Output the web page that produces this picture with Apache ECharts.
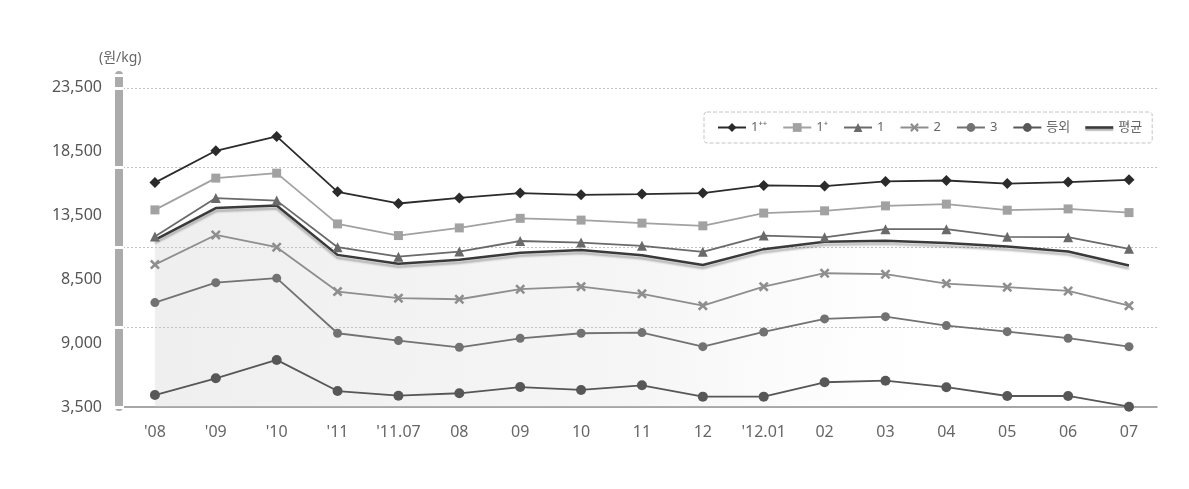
<!DOCTYPE html>
<html><head><meta charset="utf-8">
<script src="https://cdn.jsdelivr.net/npm/echarts@6/dist/echarts.min.js"></script>
<style>html,body{margin:0;padding:0;background:#fff}#c{width:1189px;height:489px}</style>
</head><body><div id="c"></div>
<script>
const categories = ["'08","'09","'10","'11","'11.07","08","09","10","11","12","'12.01","02","03","04","05","06","07"];
const g1pp = [17560,19550,20450,16980,16250,16600,16900,16790,16840,16900,17380,17340,17630,17690,17500,17590,17730];
const g1p  = [15850,17840,18150,14970,14240,14720,15320,15210,15020,14850,15650,15790,16100,16210,15830,15910,15680];
const g1   = [14180,16590,16430,13510,12920,13240,13900,13800,13600,13220,14240,14130,14640,14640,14160,14140,13410];
const g2   = [12420,14280,13510,10730,10320,10250,10880,11040,10590,9850,11040,11880,11820,11230,11010,10770,9850];
const g3   = [10040,11290,11570,8120,7660,7240,7800,8120,8160,7280,8200,9020,9160,8600,8220,7810,7280];
const gOut = [4250,5300,6450,4500,4210,4360,4750,4570,4860,4150,4150,5050,5150,4740,4190,4190,3520];
const avg  = [13970,15960,16120,13030,12470,12720,13160,13340,13010,12400,13390,13850,13910,13780,13550,13240,12360];
const yTickLabels = ['3,500','9,000','8,500','13,500','18,500','23,500'];
const seriesNames = ['1⁺⁺','1⁺','1','2','3','등외','평균'];
const unitLabel = '(원/kg)';

const base = 3500;              // value at the bottom of the plot
const toData = arr => arr.map((v, i) => [i, v - base]);
const FONT = "'Noto Sans', 'Noto Sans CJK KR', sans-serif";
const xSym = 'path://M0,1.8 L1.8,0 L5,3.2 L8.2,0 L10,1.8 L6.8,5 L10,8.2 L8.2,10 L5,6.8 L1.8,10 L0,8.2 L3.2,5 Z';

function lineSeries(name, data, color, symbol, size, width) {
  return {
    name, type: 'line', data: toData(data), symbol, symbolSize: size, z: 3,
    lineStyle: { color, width: width || 1.8 },
    itemStyle: { color, borderWidth: 0 },
    emphasis: { disabled: true }
  };
}

const legendData = seriesNames.map(n => n === '평균'
  ? { name: n, icon: 'path://M0,0 L28,0 L28,2.6 L0,2.6 Z', itemStyle: { color: '#3a3a3a', shadowColor: 'rgba(0,0,0,0.3)', shadowBlur: 1, shadowOffsetY: 2 } }
  : { name: n });

const chart = echarts.init(document.getElementById('c'), null, { renderer: 'canvas' });
const yCommon = { type: 'value', min: 0, max: 20800, position: 'left', offset: 0 };
chart.setOption({
  animation: false,
  backgroundColor: '#ffffff',
  textStyle: { fontFamily: FONT },
  title: {
    text: unitLabel, left: 94, top: 46,
    textStyle: { fontSize: 14, fontWeight: 'normal', color: '#666', fontFamily: FONT }
  },
  legend: {
    data: legendData,
    left: 704, top: 112,
    padding: [9, 10, 9, 13],
    itemWidth: 28, itemHeight: 11, itemGap: 15,
    borderColor: '#c4c4c4', borderWidth: 1, borderType: 'dashed', borderRadius: 3,
    textStyle: { fontSize: 13, color: '#666', fontFamily: FONT },
    selectedMode: false
  },
  grid: { left: 119, right: 32, top: 75, bottom: 82, containLabel: false },
  xAxis: {
    type: 'value', min: -0.59, max: 16.46,
    axisLine: { show: true, onZero: false, lineStyle: { color: '#8a8a8a', width: 1.5 } },
    axisTick: { show: false },
    splitLine: { show: false },
    axisLabel: {
      margin: 17, fontSize: 16, color: '#666', fontFamily: FONT,
      customValues: categories.map((c, i) => i),
      formatter: v => categories[Math.round(v)] !== undefined ? categories[Math.round(v)] : ''
    }
  },
  yAxis: [
    Object.assign({}, yCommon, {
      interval: 4000,
      axisLine: { show: true, onZero: false, lineStyle: { color: '#ababab', width: 8 } },
      axisTick: { show: false },
      splitLine: { show: false },
      axisLabel: {
        margin: 17, fontSize: 16, color: '#555', fontFamily: FONT,
        formatter: v => (v % 4000 === 0 && yTickLabels[v / 4000] !== undefined) ? yTickLabels[v / 4000] : ''
      }
    }),
    Object.assign({}, yCommon, {
      interval: 5000,
      axisLine: { show: false, onZero: false },
      axisLabel: { show: false },
      axisTick: { show: true, inside: false, length: 5, lineStyle: { color: '#ffffff', width: 3 } },
      splitLine: { show: true, showMinLine: false, showMaxLine: false,
        lineStyle: { color: '#c2c2c2', width: 1, type: [2, 2] } }
    }),
    Object.assign({}, yCommon, {
      interval: 5000,
      axisLine: { show: false, onZero: false },
      axisLabel: { show: false },
      axisTick: { show: true, inside: true, length: 5, lineStyle: { color: '#ffffff', width: 3 } },
      splitLine: { show: false }
    })
  ],
  series: [
    {
      name: 'avgArea', type: 'line', data: toData(avg), symbol: 'none', z: 1, silent: true,
      lineStyle: { width: 0, opacity: 0 },
      areaStyle: {
        color: { type: 'linear', x: 0, y: 0, x2: 1, y2: 0.3, colorStops: [
          { offset: 0, color: 'rgba(200,200,200,0.42)' },
          { offset: 0.5, color: 'rgba(210,210,210,0.30)' },
          { offset: 0.8, color: 'rgba(230,230,230,0.0)' },
          { offset: 1, color: 'rgba(255,255,255,0)' }
        ] }
      }
    },
    lineSeries(seriesNames[0], g1pp, '#2b2b2b', 'diamond', 11, 1.8),
    lineSeries(seriesNames[1], g1p, '#a2a2a2', 'rect', 9, 1.8),
    lineSeries(seriesNames[2], g1, '#6a6a6a', 'triangle', 10, 1.8),
    lineSeries(seriesNames[3], g2, '#8e8e8e', xSym, 10, 1.8),
    lineSeries(seriesNames[4], g3, '#727272', 'circle', 9, 1.8),
    lineSeries(seriesNames[5], gOut, '#575757', 'circle', 10, 1.8),
    {
      name: seriesNames[6], type: 'line', data: toData(avg), symbol: 'none', z: 2,
      lineStyle: { color: '#3a3a3a', width: 2.5, shadowColor: 'rgba(0,0,0,0.28)', shadowBlur: 2, shadowOffsetY: 3 },
      itemStyle: { color: '#3a3a3a' },
      emphasis: { disabled: true }
    }
  ]
});
</script></body></html>
